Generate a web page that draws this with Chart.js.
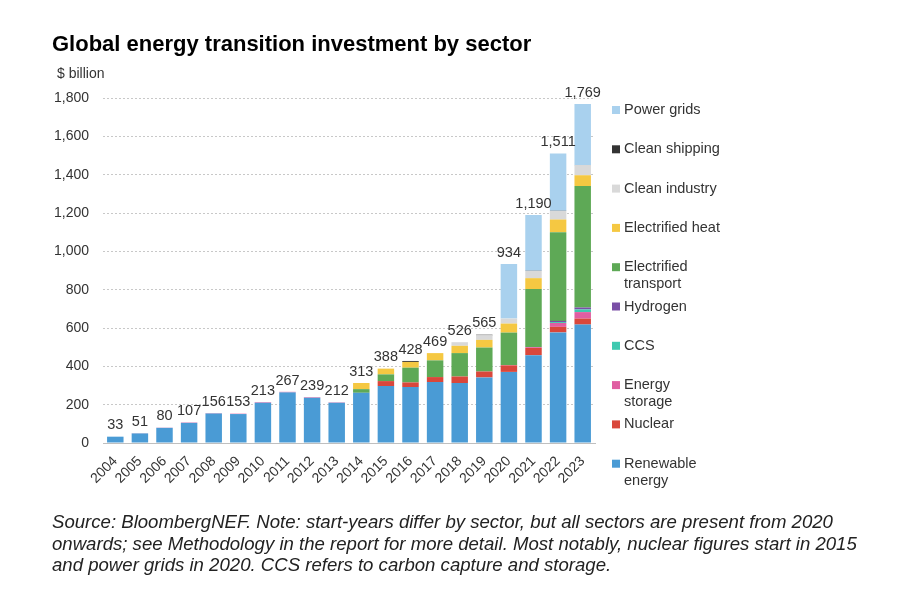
<!DOCTYPE html>
<html>
<head>
<meta charset="utf-8">
<script src="https://cdn.jsdelivr.net/npm/chart.js@4.4.1/dist/chart.umd.min.js"></script>
<style>
  body { margin: 0; background: #fff; font-family: "Liberation Sans", Arial, sans-serif; }
  #wrap { position: relative; width: 913px; height: 608px; overflow: hidden; }
  #chart { position: absolute; left: 0; top: 0; }
  .title { position: absolute; left: 52px; top: 31px; font-size: 22px; font-weight: bold; color: #000; }
  .unit { position: absolute; left: 57px; top: 65px; font-size: 14px; color: #333; }
  .note { position: absolute; left: 52px; top: 511px; width: 860px; white-space: nowrap;
          font-style: italic; font-size: 18.6px; line-height: 21.5px; color: #222; }
</style>
</head>
<body>
<div id="wrap">
  <canvas id="chart" width="913" height="608"></canvas>
  <div class="title">Global energy transition investment by sector</div>
  <div class="unit">$ billion</div>
  <div class="note">Source: BloombergNEF. Note: start-years differ by sector, but all sectors are present from 2020<br>onwards; see Methodology in the report for more detail. Most notably, nuclear figures start in 2015<br>and power grids in 2020. CCS refers to carbon capture and storage.</div>
</div>
<script>
// Categories and values ($ billion)
const years = ['2004', '2005', '2006', '2007', '2008', '2009', '2010', '2011', '2012', '2013',
               '2014', '2015', '2016', '2017', '2018', '2019', '2020', '2021', '2022', '2023'];
const totals = [33, 51, 80, 107, 156, 153, 213, 267, 239, 212, 313, 388, 428, 469, 526, 565, 934, 1190, 1511, 1769];

const renewable     = [33, 50, 79, 105, 154, 151, 210, 264, 236, 210, 262, 297, 292, 318, 313, 342, 371, 458, 577, 618];
const nuclear       = [0, 0, 0, 0, 0, 0, 0, 0, 0, 0, 0, 26, 24, 26, 34, 31, 34, 38, 29, 31];
const storage       = [0, 1, 1, 2, 2, 2, 3, 3, 3, 2, 0, 0, 0, 0, 0, 0, 2, 4, 20, 34];
const ccs           = [0, 0, 0, 0, 0, 0, 0, 0, 0, 0, 0, 0, 0, 0, 0, 0, 0, 0, 5, 14];
const hydrogen      = [0, 0, 0, 0, 0, 0, 0, 0, 0, 0, 0, 0, 0, 0, 0, 0, 0, 1, 6, 10];
const transport     = [0, 0, 0, 0, 0, 0, 0, 0, 0, 0, 19, 35, 77, 87, 122, 125, 169, 302, 463, 634];
const heat          = [0, 0, 0, 0, 0, 0, 0, 0, 0, 0, 32, 30, 30, 38, 38, 40, 47, 57, 66, 56];
const industry      = [0, 0, 0, 0, 0, 0, 0, 0, 0, 0, 0, 0, 0, 0, 19, 24, 26, 38, 45, 52];
const shipping      = [0, 0, 0, 0, 0, 0, 0, 0, 0, 0, 0, 0, 5, 0, 0, 3, 0, 1, 1, 1];
const grids         = [0, 0, 0, 0, 0, 0, 0, 0, 0, 0, 0, 0, 0, 0, 0, 0, 285, 291, 299, 319];

const yTicks = [0, 200, 400, 600, 800, 1000, 1200, 1400, 1600, 1800];

// bottom to top
const series = [
    { label: 'Renewable\nenergy', data: renewable, color: '#4a9bd5' },
    { label: 'Nuclear', data: nuclear, color: '#d9473b' },
    { label: 'Energy\nstorage', data: storage, color: '#e05ea2' },
    { label: 'CCS', data: ccs, color: '#3fc9b0' },
    { label: 'Hydrogen', data: hydrogen, color: '#7a4fa6' },
    { label: 'Electrified\ntransport', data: transport, color: '#5ea956' },
    { label: 'Electrified heat', data: heat, color: '#f5c842' },
    { label: 'Clean industry', data: industry, color: '#d9d9d9' },
    { label: 'Clean shipping', data: shipping, color: '#333333' },
    { label: 'Power grids', data: grids, color: '#a9d1ee' }
];

const fmt = v => Number(v).toLocaleString('en-US');

// Totals above each stack
const totalsPlugin = {
    id: 'totals',
    afterDatasetsDraw(chart) {
        const ctx = chart.ctx;
        const y = chart.scales.y;
        const meta = chart.getDatasetMeta(0);
        ctx.save();
        ctx.font = '14.5px "Liberation Sans", Arial, sans-serif';
        ctx.fillStyle = '#333';
        ctx.textAlign = 'center';
        ctx.textBaseline = 'bottom';
        totals.forEach((t, i) => {
            ctx.fillText(fmt(t), meta.data[i].x, y.getPixelForValue(t) - 4);
        });
        ctx.restore();
    }
};

// Legend on the right, top entry is the top of the stack
const legendPlugin = {
    id: 'sideLegend',
    afterDraw(chart) {
        const ctx = chart.ctx;
        ctx.save();
        ctx.font = '14.5px "Liberation Sans", Arial, sans-serif';
        ctx.textBaseline = 'middle';
        ctx.textAlign = 'left';
        const items = series.slice().reverse();
        items.forEach((s, i) => {
            const yy = 110 + i * 39.3;
            ctx.fillStyle = s.color;
            ctx.fillRect(612, yy - 4, 8, 8);
            ctx.fillStyle = '#333';
            s.label.split('\n').forEach((line, k) => {
                ctx.fillText(line, 624, yy + k * 17);
            });
        });
        ctx.restore();
    }
};

new Chart(document.getElementById('chart').getContext('2d'), {
    type: 'bar',
    data: {
        labels: years,
        datasets: series.map(s => ({
            label: s.label,
            data: s.data,
            backgroundColor: s.color,
            borderWidth: 0,
            barPercentage: 0.67,
            categoryPercentage: 1
        }))
    },
    options: {
        responsive: false,
        animation: false,
        devicePixelRatio: 1,
        layout: { padding: { top: 98, right: 318, left: 0, bottom: 0 } },
        plugins: {
            legend: { display: false },
            tooltip: { enabled: false }
        },
        scales: {
            x: {
                stacked: true,
                grid: { display: false },
                border: { color: '#bfbfbf' },
                ticks: {
                    color: '#333',
                    font: { size: 14, family: '"Liberation Sans", Arial, sans-serif' },
                    autoSkip: false,
                    maxRotation: 45,
                    minRotation: 45,
                    padding: 2
                },
                afterFit(scale) { scale.height = 165; }
            },
            y: {
                stacked: true,
                min: 0,
                max: 1800,
                afterBuildTicks(scale) { scale.ticks = yTicks.map(v => ({ value: v })); },
                ticks: {
                    color: '#333',
                    font: { size: 14, family: '"Liberation Sans", Arial, sans-serif' },
                    padding: 14,
                    callback: v => fmt(v)
                },
                grid: { color: '#c8c8c8', drawTicks: false },
                border: { display: false, dash: [2, 2] },
                afterFit(scale) { scale.width = 103; }
            }
        }
    },
    plugins: [totalsPlugin, legendPlugin]
});
</script>
</body>
</html>
